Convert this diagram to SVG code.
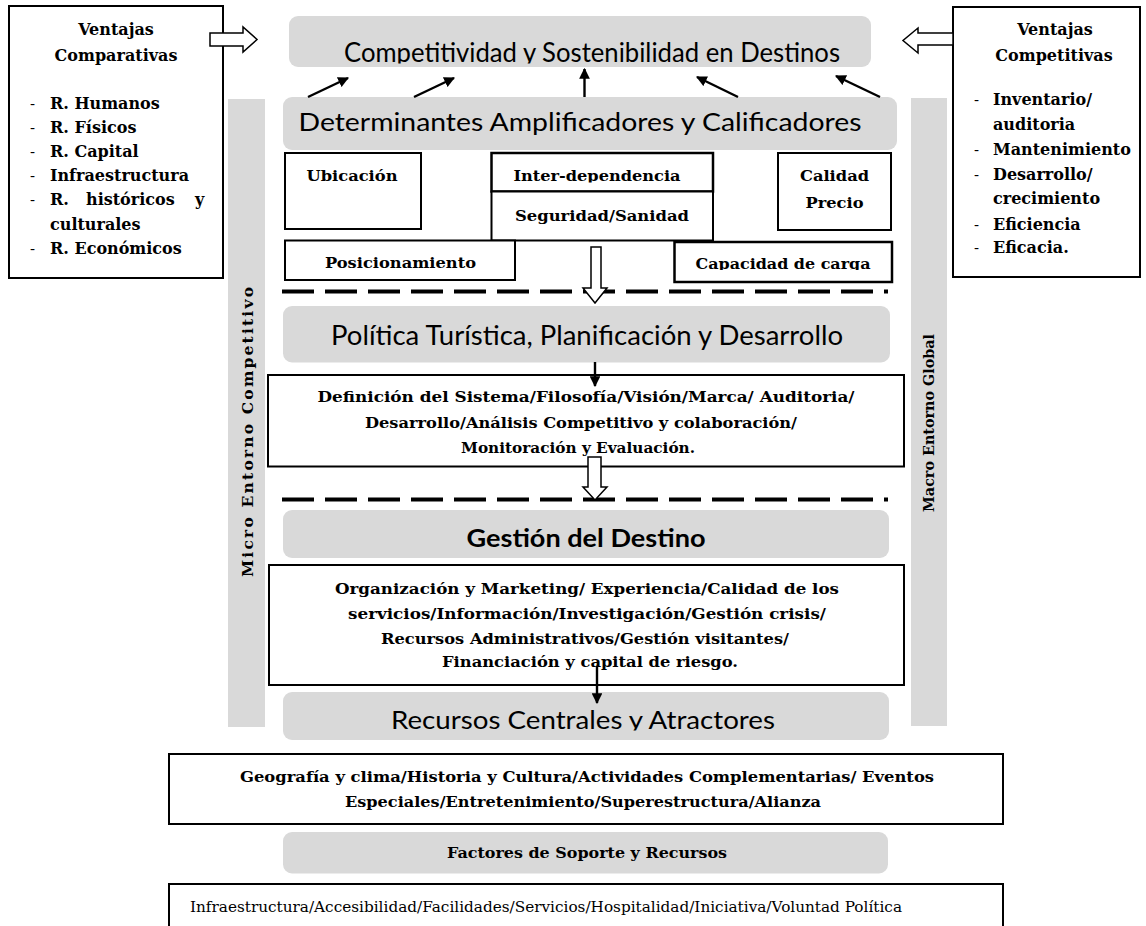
<svg xmlns="http://www.w3.org/2000/svg" width="1146" height="926" viewBox="0 0 1146 926">
<style>
.gray{fill:#d9d9d9;stroke:none}
.box{fill:#fff;stroke:#000;stroke-width:2}
.sans{font-family:Lato,"Open Sans","Liberation Sans",sans-serif;fill:#000}
.ser{font-family:"DejaVu Serif","Liberation Serif",serif;font-weight:bold;fill:#000}
.serr{font-family:"DejaVu Serif","Liberation Serif",serif;fill:#000}
.dash{stroke:#000;stroke-width:4;stroke-dasharray:32 11;fill:none}
.hollow{fill:#fff;stroke:#000;stroke-width:1.5;stroke-linejoin:miter}
.conn{stroke:#000;stroke-width:2.4;fill:none}
</style>
<defs>
<marker id="ah" viewBox="0 0 10 10" refX="9" refY="5" markerWidth="4.5" markerHeight="4.5" orient="auto" markerUnits="strokeWidth">
<path d="M0,0 L10,5 L0,10 z" fill="#000"/>
</marker>
<clipPath id="cTop"><rect x="289" y="16" width="582" height="47.5"/></clipPath>
<clipPath id="cInter"><rect x="491" y="153" width="222" height="29.5"/></clipPath>
<clipPath id="cCap"><rect x="674" y="242" width="218" height="28"/></clipPath>
<clipPath id="cRec"><rect x="283" y="692" width="606" height="38.5"/></clipPath>
</defs>

<g id="micro-entorno">
<rect class="gray" x="228" y="99" width="37" height="628"/>
<text class="ser" font-size="15.5" transform="translate(253,432) rotate(-90)" text-anchor="middle" textLength="290" lengthAdjust="spacing">Micro Entorno Competitivo</text>
</g>
<g id="macro-entorno">
<rect class="gray" x="911" y="98" width="36" height="628"/>
<text class="ser" font-size="15.5" transform="translate(934,423) rotate(-90)" text-anchor="middle" textLength="178" lengthAdjust="spacingAndGlyphs">Macro Entorno Global</text>
</g>

<g id="ventajas-comparativas">
<rect class="box" x="9" y="6" width="214" height="272"/>
<text class="ser" font-size="16" x="116" y="35" text-anchor="middle">Ventajas</text>
<text class="ser" font-size="16" x="116" y="61" text-anchor="middle">Comparativas</text>
<g class="serr" font-size="15">
<text x="30" y="109">-</text><text x="30" y="133">-</text><text x="30" y="157">-</text><text x="30" y="181">-</text><text x="30" y="205">-</text><text x="30" y="254">-</text>
</g>
<g class="ser" font-size="16">
<text x="50" y="109">R. Humanos</text>
<text x="50" y="133">R. Físicos</text>
<text x="50" y="157">R. Capital</text>
<text x="50" y="181">Infraestructura</text>
<text y="205"><tspan x="50">R.</tspan><tspan x="86">históricos</tspan><tspan x="195">y</tspan></text>
<text x="50" y="230">culturales</text>
<text x="50" y="254">R. Económicos</text>
</g>
</g>

<g id="ventajas-competitivas">
<rect class="box" x="953" y="7" width="187" height="270"/>
<text class="ser" font-size="16" x="1055" y="35" text-anchor="middle">Ventajas</text>
<text class="ser" font-size="16" x="1054" y="61" text-anchor="middle">Competitivas</text>
<g class="serr" font-size="15">
<text x="974" y="105">-</text><text x="974" y="155">-</text><text x="974" y="180">-</text><text x="974" y="230">-</text><text x="974" y="253">-</text>
</g>
<g class="ser" font-size="16">
<text x="993" y="105">Inventario/</text>
<text x="993" y="130">auditoria</text>
<text x="993" y="155">Mantenimiento</text>
<text x="993" y="180">Desarrollo/</text>
<text x="993" y="204">crecimiento</text>
<text x="993" y="230">Eficiencia</text>
<text x="993" y="253">Eficacia.</text>
</g>
</g>

<g id="competitividad">
<rect class="gray" x="289" y="16" width="582" height="51" rx="9"/>
<text class="sans" clip-path="url(#cTop)" font-size="26" x="592" y="62" text-anchor="middle" textLength="496" lengthAdjust="spacingAndGlyphs">Competitividad y Sostenibilidad en Destinos</text>
</g>

<g id="determinantes">
<rect class="gray" x="283" y="97" width="614" height="53" rx="9"/>
<text class="sans" font-size="25" x="580" y="130.5" text-anchor="middle" textLength="563" lengthAdjust="spacingAndGlyphs">Determinantes Amplificadores y Calificadores</text>
</g>

<g id="ubicacion">
<rect class="box" x="285" y="153" width="136" height="76"/>
<text class="ser" font-size="15.5" x="352" y="181" text-anchor="middle" textLength="91" lengthAdjust="spacingAndGlyphs">Ubicación</text>
</g>
<g id="inter-dependencia">
<rect class="box" x="491.5" y="153" width="221.5" height="38.5" style="stroke-width:2.5"/>
<text class="ser" clip-path="url(#cInter)" font-size="15.5" x="597" y="181" text-anchor="middle" textLength="167" lengthAdjust="spacingAndGlyphs">Inter-dependencia</text>
</g>
<g id="seguridad">
<rect class="box" x="491.5" y="191.5" width="221.5" height="49"/>
<text class="ser" font-size="15.5" x="602" y="221" text-anchor="middle" textLength="174" lengthAdjust="spacingAndGlyphs">Seguridad/Sanidad</text>
</g>
<g id="calidad-precio">
<rect class="box" x="778" y="153" width="113" height="77"/>
<text class="ser" font-size="15.5" x="834.5" y="181" text-anchor="middle" textLength="69" lengthAdjust="spacingAndGlyphs">Calidad</text>
<text class="ser" font-size="15.5" x="834.5" y="208" text-anchor="middle" textLength="58" lengthAdjust="spacingAndGlyphs">Precio</text>
</g>
<g id="posicionamiento">
<rect class="box" x="285" y="240.5" width="230" height="39.5"/>
<text class="ser" font-size="15.5" x="400.5" y="268" text-anchor="middle" textLength="151" lengthAdjust="spacingAndGlyphs">Posicionamiento</text>
</g>
<g id="capacidad-carga">
<rect class="box" x="674.5" y="242" width="217.5" height="40" style="stroke-width:2.5"/>
<text class="ser" clip-path="url(#cCap)" font-size="15.5" x="783" y="268.5" text-anchor="middle" textLength="175" lengthAdjust="spacingAndGlyphs">Capacidad de carga</text>
</g>

<g id="separadores">
<line class="dash" x1="282" y1="291.5" x2="888" y2="291.5"/>
<line class="dash" x1="282" y1="499.5" x2="888" y2="499.5"/>
</g>

<g id="politica">
<rect class="gray" x="283" y="306" width="607" height="56.5" rx="9"/>
<text class="sans" font-size="26" x="587" y="345" text-anchor="middle" textLength="512" lengthAdjust="spacingAndGlyphs">Política Turística, Planificación y Desarrollo</text>
</g>

<g id="definicion">
<rect class="box" x="268" y="375" width="636" height="91.5"/>
<g class="ser" font-size="15.5" text-anchor="middle" lengthAdjust="spacingAndGlyphs">
<text x="586" y="402" textLength="537" lengthAdjust="spacingAndGlyphs">Definición del Sistema/Filosofía/Visión/Marca/ Auditoria/</text>
<text x="581" y="428" textLength="432" lengthAdjust="spacingAndGlyphs">Desarrollo/Análisis Competitivo y colaboración/</text>
<text x="578" y="453" textLength="234" lengthAdjust="spacingAndGlyphs">Monitoración y Evaluación.</text>
</g>
</g>

<g id="gestion">
<rect class="gray" x="283" y="510" width="606" height="48" rx="9"/>
<text class="sans" font-weight="bold" font-size="24" x="586" y="546.5" text-anchor="middle" textLength="239" lengthAdjust="spacingAndGlyphs">Gestión del Destino</text>
</g>

<g id="organizacion">
<rect class="box" x="269" y="565" width="635" height="120"/>
<g class="ser" font-size="15.5" text-anchor="middle">
<text x="587" y="593.5" textLength="504" lengthAdjust="spacingAndGlyphs">Organización y Marketing/ Experiencia/Calidad de los</text>
<text x="587" y="618.5" textLength="478" lengthAdjust="spacingAndGlyphs">servicios/Información/Investigación/Gestión crisis/</text>
<text x="585" y="643.5" textLength="408" lengthAdjust="spacingAndGlyphs">Recursos Administrativos/Gestión visitantes/</text>
<text x="590" y="667" textLength="296" lengthAdjust="spacingAndGlyphs">Financiación y capital de riesgo.</text>
</g>
</g>

<g id="recursos-centrales">
<rect class="gray" x="283" y="692" width="606" height="48" rx="9"/>
<text class="sans" clip-path="url(#cRec)" font-size="25" x="583" y="729" text-anchor="middle" textLength="384" lengthAdjust="spacingAndGlyphs">Recursos Centrales y Atractores</text>
</g>

<g id="geografia">
<rect class="box" x="169" y="754" width="834" height="70"/>
<g class="ser" font-size="15.5" text-anchor="middle">
<text x="587" y="782" textLength="694" lengthAdjust="spacingAndGlyphs">Geografía y clima/Historia y Cultura/Actividades Complementarias/ Eventos</text>
<text x="583" y="807" textLength="476" lengthAdjust="spacingAndGlyphs">Especiales/Entretenimiento/Superestructura/Alianza</text>
</g>
</g>

<g id="factores">
<rect class="gray" x="283" y="832" width="605" height="41.5" rx="9"/>
<text class="ser" font-size="15.5" x="587" y="858" text-anchor="middle" textLength="280" lengthAdjust="spacingAndGlyphs">Factores de Soporte y Recursos</text>
</g>

<g id="infraestructura">
<rect class="box" x="169" y="884" width="834" height="60"/>
<text class="serr" font-size="14" x="190" y="912" textLength="712" lengthAdjust="spacingAndGlyphs">Infraestructura/Accesibilidad/Facilidades/Servicios/Hospitalidad/Iniciativa/Voluntad Política</text>
</g>

<g id="connectors">
<polygon class="hollow" points="210,33 243,33 243,27 257,39.5 243,52 243,46 210,46"/>
<polygon class="hollow" points="953,33 918,33 918,28 903,40.5 918,53 918,45 953,45"/>
<line class="conn" x1="308" y1="97" x2="348" y2="78" marker-end="url(#ah)"/>
<line class="conn" x1="414" y1="97" x2="454" y2="78" marker-end="url(#ah)"/>
<line class="conn" x1="584.5" y1="97" x2="584.5" y2="69" marker-end="url(#ah)"/>
<line class="conn" x1="738" y1="97" x2="697" y2="77" marker-end="url(#ah)"/>
<line class="conn" x1="880" y1="97" x2="836" y2="76" marker-end="url(#ah)"/>
<polygon class="hollow" points="591,247 601,247 601,288 607,288 595,303 583,288 591,288"/>
<line class="conn" x1="595" y1="362" x2="595" y2="386" marker-end="url(#ah)"/>
<polygon class="hollow" points="588,457 601,457 601,487 607,487 595,500 583,487 588,487"/>
<line class="conn" x1="597" y1="666" x2="597" y2="703" marker-end="url(#ah)"/>
</g>
</svg>
